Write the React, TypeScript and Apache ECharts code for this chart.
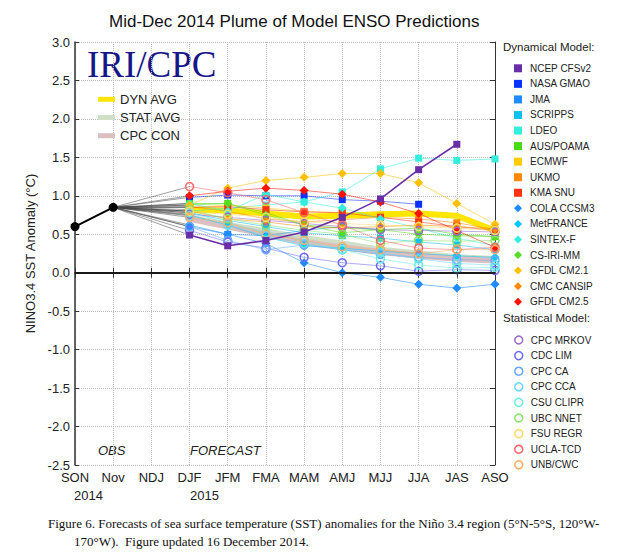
import React, { useEffect, useRef } from "react";
import * as echarts from "echarts";

const seasons = ["SON", "Nov", "NDJ", "DJF", "JFM", "FMA", "MAM", "AMJ", "MJJ", "JJA", "JAS", "ASO"];
const yTicks = [-2.5, 3.0, 0.5]; // min, max, step
const observed = [0.6, 0.85];
const forecastStart = 3;

// Dynamical models (DJF .. ASO)
const NCEP_CFSv2 = [0.49, 0.35, 0.42, 0.53, 0.72, 0.96, 1.34, 1.67, null];
const NASA_GMAO = [0.98, 1.01, 1.0, 1.0, 0.95, 0.93, 0.89, null, null];
const JMA = [0.6, 0.5, 0.48, 0.55, 0.6, 0.56, null, null, null];
const SCRIPPS = [0.78, 0.68, 0.6, 0.52, 0.48, 0.45, 0.4, 0.36, 0.3];
const LDEO = [0.8, 0.84, 0.88, 0.92, 1.05, 1.35, 1.49, 1.46, 1.48];
const AUS_POAMA = [0.9, 0.9, 0.78, 0.62, 0.58, 0.56, 0.58, 0.5, 0.47];
const ECMWF = [0.85, 0.88, 0.84, 0.8, 0.78, 0.75, null, null, null];
const UKMO = [0.86, 0.8, 0.7, 0.66, 0.69, 0.72, 0.7, 0.65, 0.56];
const KMA_SNU = [0.85, 0.86, 0.82, 0.79, 0.78, 0.72, 0.66, 0.6, 0.55];
const COLA_CCSM3 = [0.62, 0.5, 0.38, 0.13, 0.0, -0.06, -0.15, -0.2, -0.15];
const MetFRANCE = [0.75, 0.62, 0.46, 0.35, 0.32, 0.28, 0.25, 0.22, 0.2];
const SINTEX_F = [0.9, 0.8, 1.02, 0.92, 0.84, 0.7, 0.58, 0.45, 0.35];
const CS_IRI_MM = [0.88, 0.9, 0.75, 0.62, 0.52, 0.56, 0.5, 0.48, 0.47];
const GFDL_CM21 = [0.88, 1.1, 1.2, 1.24, 1.29, 1.29, 1.17, 0.9, 0.63];
const CMC_CANSIP = [0.8, 0.7, 0.66, 0.6, 0.58, 0.6, 0.62, 0.6, 0.57];
const GFDL_CM25 = [1.0, 1.06, 1.1, 1.07, 1.02, 0.92, 0.77, 0.55, 0.33];

// Statistical models
const CPC_MRKOV = [0.76, 0.72, 0.68, 0.64, 0.6, 0.56, 0.55, 0.54, 0.53];
const CDC_LIM = [0.55, 0.4, 0.32, 0.2, 0.13, 0.09, 0.02, 0.04, 0.03];
const CPC_CA = [0.6, 0.42, 0.3, 0.36, 0.3, 0.24, 0.2, 0.17, 0.16];
const CPC_CCA = [0.74, 0.62, 0.48, 0.38, 0.3, 0.26, 0.18, 0.12, 0.1];
const CSU_CLIPR = [0.78, 0.65, 0.52, 0.42, 0.3, 0.18, 0.1, 0.06, 0.07];
const UBC_NNET = [0.82, 0.7, 0.62, 0.55, 0.5, 0.38, 0.42, 0.41, 0.42];
const FSU_REGR = [0.8, 0.76, 0.72, 0.66, 0.64, 0.62, 0.6, 0.58, 0.55];
const UCLA_TCD = [1.12, 1.04, 0.95, 0.78, 0.62, 0.42, 0.32, 0.3, 0.33];
const UNB_CWC = [0.72, 0.65, 0.5, 0.42, 0.34, 0.3, 0.25, 0.3, 0.3];

// Averages
const DYN_AVG = [0.82, 0.81, 0.77, 0.73, 0.74, 0.76, 0.77, 0.74, 0.55];
const STAT_AVG = [0.72, 0.62, 0.54, 0.45, 0.38, 0.3, 0.25, 0.2, 0.18];
const CPC_CON = [0.7, 0.6, 0.5, 0.4, 0.33, 0.27, 0.22, 0.18, 0.16];

type M = { name: string; values: (number | null)[]; color: string; symbol: string; strong?: boolean };

const dynModels: M[] = [
  { name: "NCEP CFSv2", values: NCEP_CFSv2, color: "#6a2da8", symbol: "rect", strong: true },
  { name: "NASA GMAO", values: NASA_GMAO, color: "#0a32ff", symbol: "rect" },
  { name: "JMA", values: JMA, color: "#1e8cff", symbol: "rect" },
  { name: "SCRIPPS", values: SCRIPPS, color: "#10c0f0", symbol: "rect" },
  { name: "LDEO", values: LDEO, color: "#33eedd", symbol: "rect" },
  { name: "AUS/POAMA", values: AUS_POAMA, color: "#44dd11", symbol: "rect" },
  { name: "ECMWF", values: ECMWF, color: "#ffcc00", symbol: "rect" },
  { name: "UKMO", values: UKMO, color: "#ff8800", symbol: "rect" },
  { name: "KMA SNU", values: KMA_SNU, color: "#ff3311", symbol: "rect" },
  { name: "COLA CCSM3", values: COLA_CCSM3, color: "#1e8cff", symbol: "diamond" },
  { name: "MetFRANCE", values: MetFRANCE, color: "#00c8ff", symbol: "diamond" },
  { name: "SINTEX-F", values: SINTEX_F, color: "#33eedd", symbol: "diamond" },
  { name: "CS-IRI-MM", values: CS_IRI_MM, color: "#55dd22", symbol: "diamond" },
  { name: "GFDL CM2.1", values: GFDL_CM21, color: "#ffc000", symbol: "diamond" },
  { name: "CMC CANSIP", values: CMC_CANSIP, color: "#ff8800", symbol: "diamond" },
  { name: "GFDL CM2.5", values: GFDL_CM25, color: "#ff1100", symbol: "diamond" },
];

const statModels: M[] = [
  { name: "CPC MRKOV", values: CPC_MRKOV, color: "#9966cc", symbol: "circle" },
  { name: "CDC LIM", values: CDC_LIM, color: "#6a6aff", symbol: "circle" },
  { name: "CPC CA", values: CPC_CA, color: "#66aaff", symbol: "circle" },
  { name: "CPC CCA", values: CPC_CCA, color: "#66d8ff", symbol: "circle" },
  { name: "CSU CLIPR", values: CSU_CLIPR, color: "#66eedd", symbol: "circle" },
  { name: "UBC NNET", values: UBC_NNET, color: "#88e066", symbol: "circle" },
  { name: "FSU REGR", values: FSU_REGR, color: "#ffd966", symbol: "circle" },
  { name: "UCLA-TCD", values: UCLA_TCD, color: "#ff6666", symbol: "circle" },
  { name: "UNB/CWC", values: UNB_CWC, color: "#ffaa66", symbol: "circle" },
];

const avgs = [
  { name: "DYN AVG", values: DYN_AVG, color: "#ffe600" },
  { name: "STAT AVG", values: STAT_AVG, color: "#cfdfc8" },
  { name: "CPC CON", values: CPC_CON, color: "#dcc0c0" },
];

const SANS = "'Liberation Sans', Arial, Helvetica, sans-serif";
const SERIF = "'Liberation Serif', 'Times New Roman', serif";

const pad = (v: (number | null)[]) => [...Array(forecastStart).fill(null), ...v];
const obsData = () => seasons.map((_, i) => (i < observed.length ? observed[i] : null));

export default function App() {
  const ref = useRef<HTMLDivElement>(null);
  useEffect(() => {
    if (!ref.current) return;
    const chart = echarts.init(ref.current, undefined, { renderer: "svg" });
    const lastObs = observed[observed.length - 1];

    const connectors = [...dynModels, ...statModels].map((m) => ({
      type: "line",
      name: m.name + " link",
      data: seasons.map((_, i) => (i === observed.length - 1 ? lastObs : i === forecastStart ? m.values[0] : null)),
      connectNulls: true,
      symbol: "none",
      lineStyle: { color: "#444", width: 1, opacity: 0.5 },
      silent: true,
      z: 1,
    }));

    const avgSeries = avgs.map((a) => ({
      type: "line",
      name: a.name,
      data: pad(a.values),
      symbol: "none",
      lineStyle: { color: a.color, width: 6 },
      itemStyle: { color: a.color },
      silent: true,
      z: 2,
    }));

    const modelSeries = [...dynModels, ...statModels].map((m) => {
      const hollow = m.symbol === "circle";
      return {
        type: "line",
        name: m.name,
        data: pad(m.values),
        symbol: m.symbol,
        symbolSize: m.symbol === "diamond" ? 9 : m.symbol === "rect" ? 7 : 8,
        showSymbol: true,
        lineStyle: { color: m.color, width: m.strong ? 1.6 : 1, opacity: m.strong ? 1 : 0.55 },
        itemStyle: hollow
          ? { color: "rgba(255,255,255,0)", borderColor: m.color, borderWidth: 1.5 }
          : { color: m.color },
        silent: true,
        z: m.strong ? 4 : 3,
      };
    });

    const obsSeries = {
      type: "line",
      name: "OBS",
      data: obsData(),
      symbol: "circle",
      symbolSize: 9,
      lineStyle: { color: "#000", width: 2 },
      itemStyle: { color: "#000" },
      silent: true,
      z: 4,
      markLine: {
        silent: true,
        symbol: "none",
        label: { show: false },
        lineStyle: { color: "#111", width: 1.5, type: "solid" },
        data: [{ yAxis: 0 }],
      },
    };

    const legendText = { fontSize: 10, color: "#222", fontFamily: SANS, lineHeight: 12, padding: [0, 0, 0, 3] };

    chart.setOption({
      animation: false,
      backgroundColor: "#fff",
      title: {
        text: "Mid-Dec 2014 Plume of Model ENSO Predictions",
        left: 104,
        top: 8,
        textStyle: { fontSize: 17, fontWeight: "normal", color: "#111", fontFamily: SANS },
      },
      grid: { left: 75, top: 42, right: 125, bottom: 89, containLabel: false },
      legend: [
        {
          orient: "vertical",
          left: 509,
          top: 57.3,
          itemWidth: 8,
          itemHeight: 8,
          itemGap: 3.56,
          selectedMode: false,
          textStyle: legendText,
          data: dynModels.map((m) => ({ name: m.name, icon: m.symbol })),
        },
        {
          orient: "vertical",
          left: 509,
          top: 329,
          itemWidth: 8,
          itemHeight: 8,
          itemGap: 3.6,
          selectedMode: false,
          textStyle: legendText,
          data: statModels.map((m) => ({
            name: m.name,
            icon: "circle",
            itemStyle: { color: "#fff", borderColor: m.color, borderWidth: 1.5 },
          })),
        },
        {
          orient: "vertical",
          left: 93,
          top: 87.3,
          itemWidth: 17,
          itemHeight: 5,
          itemGap: 4.2,
          selectedMode: false,
          textStyle: { fontSize: 13, color: "#222", fontFamily: SANS, lineHeight: 14 },
          data: avgs.map((a) => ({ name: a.name, icon: "rect", itemStyle: { color: a.color } })),
        },
      ],
      xAxis: [
        {
          type: "category",
          data: seasons,
          boundaryGap: false,
          axisLine: { lineStyle: { color: "#333", width: 2 } },
          axisTick: { inside: true, length: 5, lineStyle: { color: "#333" } },
          axisLabel: { fontSize: 13, color: "#222", margin: 6, fontFamily: SANS, interval: 0 },
          splitLine: { show: true, lineStyle: { type: "dotted", color: "#bbb" } },
        },
        {
          type: "category",
          data: seasons,
          position: "top",
          boundaryGap: false,
          axisLine: { lineStyle: { color: "#333", width: 1 } },
          axisTick: { inside: true, length: 5, lineStyle: { color: "#333" } },
          axisLabel: { show: false },
          splitLine: { show: false },
        },
      ],
      yAxis: [
        {
          type: "value",
          min: yTicks[0],
          max: yTicks[1],
          interval: yTicks[2],
          name: "NINO3.4 SST Anomaly (°C)",
          nameLocation: "middle",
          nameGap: 33,
          nameTextStyle: { fontSize: 13, color: "#222", fontFamily: SANS },
          axisLine: { show: true, lineStyle: { color: "#333", width: 1.5 } },
          axisTick: { show: true, inside: true, length: 4, lineStyle: { color: "#333" } },
          axisLabel: {
            fontSize: 13,
            color: "#222",
            margin: 5,
            fontFamily: SANS,
            formatter: (v: number) => v.toFixed(1),
          },
          splitLine: { show: true, lineStyle: { type: "dotted", color: "#bbb" } },
        },
        {
          type: "value",
          min: yTicks[0],
          max: yTicks[1],
          interval: yTicks[2],
          position: "right",
          axisLine: { show: true, lineStyle: { color: "#333", width: 1 } },
          axisTick: { show: true, inside: true, length: 5, lineStyle: { color: "#333" } },
          axisLabel: { show: false },
          splitLine: { show: false },
        },
      ],
      graphic: [
        {
          type: "text",
          left: 87,
          top: 46,
          style: { text: "IRI/CPC", font: `37px ${SERIF}`, fill: "#16168a" },
        },
        {
          type: "text",
          x: 98,
          y: 450,
          style: { text: "OBS", font: `italic 13px ${SANS}`, fill: "#222", textVerticalAlign: "middle" },
        },
        {
          type: "text",
          x: 190,
          y: 450,
          style: { text: "FORECAST", font: `italic 13px ${SANS}`, fill: "#222", textVerticalAlign: "middle" },
        },
        {
          type: "text",
          x: 74,
          y: 495,
          style: { text: "2014", font: `13px ${SANS}`, fill: "#222", textVerticalAlign: "middle" },
        },
        {
          type: "text",
          x: 190,
          y: 495,
          style: { text: "2015", font: `13px ${SANS}`, fill: "#222", textVerticalAlign: "middle" },
        },
        {
          type: "text",
          x: 503,
          y: 47,
          style: { text: "Dynamical Model:", font: `11.5px ${SANS}`, fill: "#222", textVerticalAlign: "middle" },
        },
        {
          type: "text",
          x: 503,
          y: 318,
          style: { text: "Statistical Model:", font: `11.5px ${SANS}`, fill: "#222", textVerticalAlign: "middle" },
        },
        {
          type: "text",
          x: 48,
          y: 523,
          style: {
            text: "Figure 6. Forecasts of sea surface temperature (SST) anomalies for the Niño 3.4 region (5°N-5°S, 120°W-",
            font: `13px ${SERIF}`,
            fill: "#111",
            textVerticalAlign: "middle",
          },
        },
        {
          type: "text",
          x: 74,
          y: 541,
          style: {
            text: "170°W).  Figure updated 16 December 2014.",
            font: `13px ${SERIF}`,
            fill: "#111",
            textVerticalAlign: "middle",
          },
        },
      ],
      series: [...connectors, ...avgSeries, ...modelSeries, obsSeries],
    });
    return () => chart.dispose();
  }, []);

  return (
    <div
      ref={ref}
      style={{ position: "absolute", left: 0, top: 0, width: 620, height: 554, background: "#fff" }}
    />
  );
}
